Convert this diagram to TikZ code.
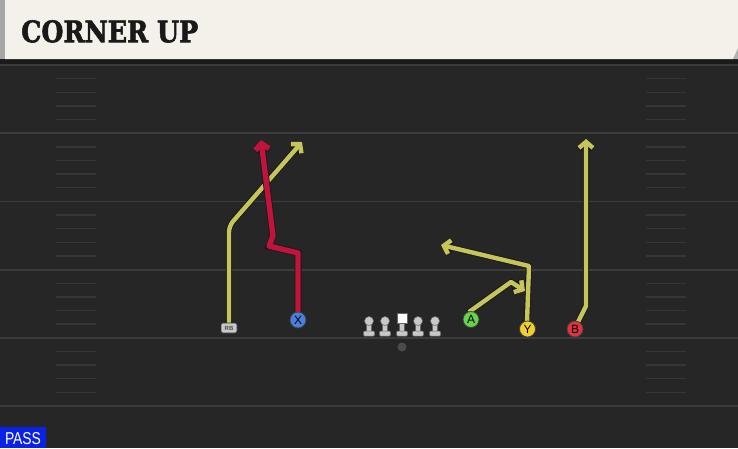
\documentclass[tikz,border=0pt]{standalone}
\usepackage{fontspec}
\usetikzlibrary{arrows.meta}
\newfontfamily\titlefont{DejaVu Serif}[FakeBold=2]
\newfontfamily\labelfont{Liberation Sans}
\definecolor{field}{HTML}{262626}
\definecolor{band}{HTML}{1B1B1B}
\definecolor{yardline}{HTML}{3C3C3C}
\definecolor{hashcol}{HTML}{363636}
\definecolor{cream}{HTML}{F4F1EA}
\definecolor{routecol}{HTML}{C6C55C}
\definecolor{redroute}{HTML}{C0143C}
\definecolor{xblue}{HTML}{4A7FE0}
\definecolor{agreen}{HTML}{66D34A}
\definecolor{yyellow}{HTML}{F2D02A}
\definecolor{bred}{HTML}{E0323F}
\definecolor{passblue}{HTML}{0B22E6}
\definecolor{lmgray}{HTML}{C8C8C8}
\tikzset{
  player/.style={circle, minimum size=16pt, inner sep=0pt, draw=black!75, line width=0.8pt,
    font=\labelfont\fontsize{12}{12}\selectfont, text=black},
  route/.style={draw=routecol, line width=4.4pt, line join=round,
    -{Straight Barb[length=6pt,width=14pt]},
    preaction={draw=black!90, line width=6.2pt, -{Straight Barb[length=6pt,width=14pt]}}},
  redrt/.style={draw=redroute, line width=5.4pt, line join=round,
    -{Straight Barb[length=6pt,width=14pt]},
    preaction={draw=black!90, line width=7pt, -{Straight Barb[length=6pt,width=14pt]}}},
  lineman/.pic={
    \fill[lmgray, draw=black!60, line width=0.5pt] (-2.5,0) rectangle (2.5,11);
    \fill[lmgray, draw=black!60, line width=0.5pt, rounded corners=1pt] (-5.5,10) rectangle (5.5,15);
    \fill[lmgray, draw=black!60, line width=0.5pt] (0,0) circle (4.5);
  },
}
\begin{document}
\begin{tikzpicture}[x=1pt,y=-1pt]
\useasboundingbox (0,0) rectangle (738,448);
% field
\fill[field] (0,59) rectangle (738,448);
\fill[band] (0,59) rectangle (738,64);
\foreach \yy in {65,133.2,201.4,269.6,337.8,406}
  \draw[yardline, line width=1.8pt] (0,\yy) -- (738,\yy);
\foreach \k in {1,2,3,4,6,7,8,9,11,12,13,14,16,17,18,19,21,22,23,24} {
  \draw[hashcol, line width=1.4pt] (56,65+13.64*\k) -- (96,65+13.64*\k);
  \draw[hashcol, line width=1.4pt] (646,65+13.64*\k) -- (686,65+13.64*\k);
}
% header
\fill[cream] (5,0) -- (738,0) -- (738,48) -- (733,59) -- (5,59) -- cycle;
\fill[gray!70] (0,0) rectangle (5,59);
\fill[gray!60] (738,48) -- (738,59) -- (733,59) -- cycle;
\node[anchor=north west, inner sep=0pt, text=black!90] (title) at (21,20)
  {\resizebox{177pt}{22pt}{\titlefont\bfseries CORNER UP}};
% PASS badge
\fill[passblue] (0,427) rectangle (46,448);
\node[inner sep=0pt, text=white] (pass) at (23,439)
  {\resizebox{36pt}{12pt}{\labelfont PASS}};
% waypoints
\coordinate (rb1) at (229,226);
\coordinate (rbEnd) at (302,142);
\coordinate (x1) at (298,253);
\coordinate (x2) at (269,246);
\coordinate (x3) at (273,236);
\coordinate (xEnd) at (261,140);
\coordinate (a1) at (511,282);
\coordinate (aEnd) at (525,291);
\coordinate (y1) at (529,266);
\coordinate (yEnd) at (441,245);
\coordinate (b1) at (586,306);
\coordinate (bEnd) at (586,139);
% routes
\draw[route, rounded corners=6pt] (229,325) -- (rb1) -- (rbEnd);
\draw[redrt] (298,316) -- (x1) -- (x2) -- (x3) -- (xEnd);
\draw[route] (469,312) -- (a1) -- (aEnd);
\draw[route] (527,322) -- (y1) -- (yEnd);
\draw[route] (577,324) -- (b1) -- (bEnd);
% linemen
\pic at (369,321) {lineman};
\pic at (385,321) {lineman};
\pic at (418,321) {lineman};
\pic at (435,321) {lineman};
\fill[lmgray, draw=black!60, line width=0.5pt] (399.5,323) rectangle (404.5,333);
\fill[lmgray, draw=black!60, line width=0.5pt, rounded corners=1pt] (396.5,331) rectangle (407.5,336);
\node[fill=white, draw=black!60, line width=0.5pt, minimum size=10pt, inner sep=0pt] (center) at (402,318) {};
\node[circle, fill=gray!60!black, minimum size=9pt, inner sep=0pt] (ball) at (402,347) {};
% players
\node[rounded corners=2pt, fill=lmgray, draw=black!80, line width=0.6pt, minimum width=16pt,
  minimum height=10pt, inner sep=0pt, font=\labelfont\bfseries\fontsize{6}{6}\selectfont, text=black!70] (rb) at (229,328) {RB};
\node[player, fill=xblue] (x) at (298,320) {X};
\node[player, fill=agreen] (a) at (471,319.5) {A};
\node[player, fill=yyellow] (y) at (527.5,329) {Y};
\node[player, fill=bred] (b) at (575,329) {B};
\end{tikzpicture}
\end{document}
